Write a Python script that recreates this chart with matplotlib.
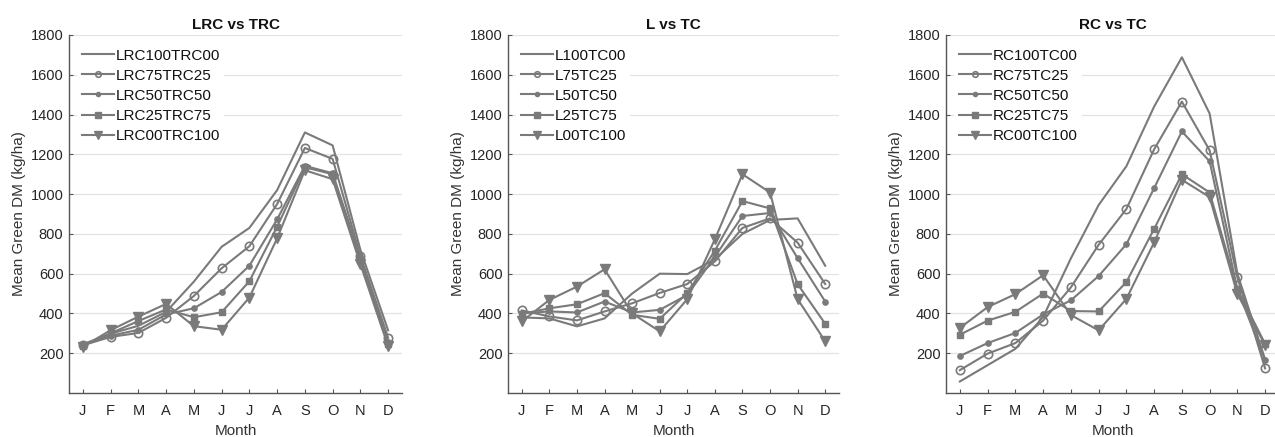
import matplotlib
matplotlib.use("Agg")
import matplotlib.pyplot as plt

plt.rcParams['font.family'] = ['Liberation Sans', 'DejaVu Sans']

months = ["J", "F", "M", "A", "M", "J", "J", "A", "S", "O", "N", "D"]
yticks = [200, 400, 600, 800, 1000, 1200, 1400, 1600, 1800]

# Panel 1: LRC vs TRC
title1 = "LRC vs TRC"
labels1 = ["LRC100TRC00", "LRC75TRC25", "LRC50TRC50", "LRC25TRC75", "LRC00TRC100"]
lrc100 = [245, 298, 338, 408, 560, 735, 830, 1020, 1310, 1245, 720, 315]
lrc75 = [240, 282, 302, 378, 488, 627, 738, 950, 1232, 1177, 690, 278]
lrc50 = [242, 288, 318, 395, 426, 508, 640, 873, 1142, 1105, 680, 258]
lrc25 = [238, 300, 362, 420, 381, 406, 562, 836, 1135, 1100, 668, 245]
lrc00 = [232, 316, 384, 448, 336, 318, 480, 778, 1120, 1075, 648, 235]

# Panel 2: L vs TC
title2 = "L vs TC"
labels2 = ["L100TC00", "L75TC25", "L50TC50", "L25TC75", "L00TC100"]
l100 = [380, 375, 335, 375, 500, 600, 598, 672, 800, 870, 878, 640]
l75 = [415, 385, 365, 410, 451, 503, 548, 662, 830, 878, 756, 548]
l50 = [400, 410, 405, 460, 405, 418, 493, 685, 890, 905, 678, 460]
l25 = [398, 426, 446, 502, 393, 373, 502, 716, 965, 928, 547, 348]
l00 = [360, 468, 535, 622, 400, 310, 472, 773, 1100, 1008, 472, 260]

# Panel 3: RC vs TC
title3 = "RC vs TC"
labels3 = ["RC100TC00", "RC75TC25", "RC50TC50", "RC25TC75", "RC00TC100"]
rc100 = [58, 140, 222, 382, 677, 945, 1140, 1440, 1688, 1405, 600, 168]
rc75 = [115, 198, 251, 364, 531, 745, 925, 1225, 1465, 1220, 581, 124]
rc50 = [186, 251, 302, 395, 466, 588, 748, 1030, 1315, 1165, 522, 166]
rc25 = [293, 364, 408, 500, 412, 410, 558, 825, 1100, 1008, 522, 247]
rc00 = [327, 432, 497, 592, 392, 315, 473, 757, 1072, 985, 497, 242]

panels = [
    (title1, labels1, [lrc100, lrc75, lrc50, lrc25, lrc00]),
    (title2, labels2, [l100, l75, l50, l25, l00]),
    (title3, labels3, [rc100, rc75, rc50, rc25, rc00]),
]

LINE = "#7a7a7a"
styles = [
    dict(marker=None),
    dict(marker="o", markersize=6, markerfacecolor="none", markeredgewidth=1.2),
    dict(marker="o", markersize=3.8, markerfacecolor=LINE),
    dict(marker="s", markersize=5, markerfacecolor=LINE),
    dict(marker="v", markersize=6.5, markerfacecolor=LINE),
]
legend_ms = [0, 4, 3, 4.5, 5.5]

W, H = 1275, 437
fig = plt.figure(figsize=(W / 100, H / 100), dpi=100)
lefts = [69, 508, 946]
rights = [402, 839, 1279]
top, bottom = 35, 393

x = list(range(1, 13))
for i, (title, labels, series) in enumerate(panels):
    l, r = lefts[i], rights[i]
    ax = fig.add_axes([l / W, (H - bottom) / H, (r - l) / W, (bottom - top) / H])
    for ys, lab, st in zip(series, labels, styles):
        ax.plot(x, ys, color=LINE, linewidth=1.5, markeredgecolor=LINE, label=lab, **st)
    ax.set_xlim(0.5, 12.5)
    ax.set_ylim(0, 1800)
    ax.set_xticks(x)
    ax.set_xticklabels(months)
    ax.set_yticks(yticks)
    ax.grid(axis="y", color="#e3e3e3", linewidth=0.9)
    ax.set_axisbelow(True)
    for s in ["top", "right"]:
        ax.spines[s].set_visible(False)
    for s in ["left", "bottom"]:
        ax.spines[s].set_color("#555555")
        ax.spines[s].set_linewidth(1.0)
    ax.tick_params(direction="in", length=3, width=0.8, color="#555555",
                   labelsize=10.5, labelcolor="#262626")
    ax.tick_params(axis="x", pad=8)
    ax.tick_params(axis="y", pad=4)
    ax.set_title(title, fontsize=11, fontweight="bold", pad=4, color="#111111")
    ax.set_xlabel("Month", fontsize=11, color="#333333", labelpad=4)
    ax.set_ylabel("Mean Green DM (kg/ha)", fontsize=11, color="#333333", labelpad=3)
    leg = ax.legend(loc="upper left", bbox_to_anchor=(0.025, 0.975), fontsize=11,
                    frameon=True, facecolor="white", edgecolor="none", framealpha=1,
                    fancybox=False, handlelength=2.1, handletextpad=0.1,
                    labelspacing=0.4, borderpad=0.3, borderaxespad=0)
    for h, ms in zip(leg.legend_handles, legend_ms):
        h.set_markersize(ms)
    for t in leg.get_texts():
        t.set_color("#111111")

fig.savefig("out.png", dpi=100)
